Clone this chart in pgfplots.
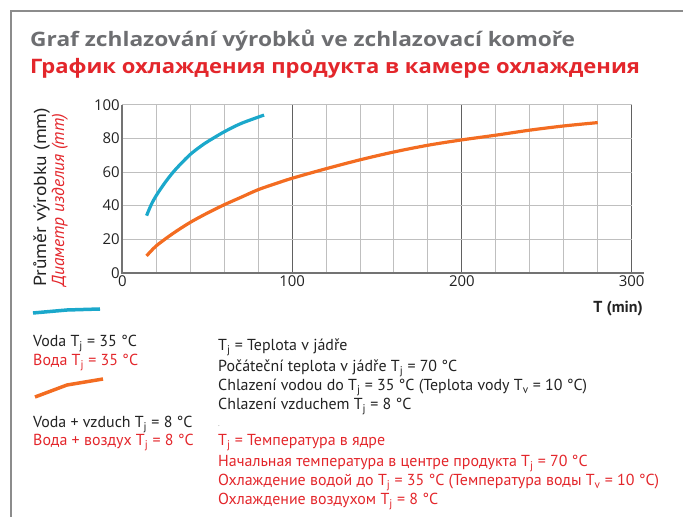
\documentclass[border=0pt]{standalone}
\usepackage{fontspec}
\setmainfont{PT Sans}
\newfontfamily\tickfont{Open Sans}
\newfontfamily\titlefontA[FakeStretch=1.14]{Open Sans}
\newfontfamily\titlefontB[FakeStretch=1.105]{Open Sans}
\newfontfamily\ylabfont[FakeStretch=1.12]{PT Sans}
\usepackage{pgfplots}
\pgfplotsset{compat=1.18}
\definecolor{framegrey}{HTML}{8C8C8C}
\definecolor{titlegrey}{HTML}{6D6E71}
\definecolor{rred}{HTML}{E3262B}
\definecolor{cblue}{HTML}{1BA8CB}
\definecolor{corange}{HTML}{F36C21}
\definecolor{txt}{HTML}{222222}
\begin{document}
\begin{tikzpicture}[x=1bp,y=1bp]
\path[use as bounding box] (0,0) rectangle (683,517);
\draw[framegrey, line width=2.2bp] (11,0) -- (11,506) -- (683,506);
\node[anchor=base west, inner sep=0, font=\titlefontA\fontsize{20}{24}\selectfont\bfseries, text=titlegrey] at (30,470) {Graf zchlazování výrobků ve zchlazovací komoře};
\node[anchor=base west, inner sep=0, font=\titlefontB\fontsize{20}{24}\selectfont\bfseries, text=rred] at (30,443) {График охлаждения продукта в камере охлаждения};
\coordinate (O) at (122.3,244.3);
\begin{axis}[at={(O)}, anchor=south west, scale only axis,
  width=509.4bp, height=167.7bp,
  xmin=0, xmax=300, ymin=0, ymax=100,
  axis line style={draw=none}, tick style={draw=none},
  xtick={0,100,200,300}, minor xtick={20,40,60,80,120,140,160,180,220,240,260,280},
  ytick={0,20,40,60,80,100},
  grid=both,
  major x grid style={draw=black!62, line width=1bp},
  minor x grid style={draw=black!25, line width=1bp},
  major y grid style={draw=black!25, line width=1bp},
  ticklabel style={font=\tickfont\fontsize{15}{18}\selectfont, text=txt},
  /pgf/number format/assume math mode=true,
  xticklabel style={yshift=1bp},
  yticklabel style={xshift=1bp},
  clip=false,
]
\draw[black!55, line width=2bp] (axis cs:0,100) -- (axis cs:0,0) -- (axis cs:307,0);
\addplot[cblue, line width=3.2bp, smooth] coordinates {(14.3,34) (17,40.5) (20,46) (25,53.5) (30,60) (35,65.5) (40,70.5) (45,74.5) (50,78) (60,84) (70,89) (83.5,94)};
\addplot[corange, line width=3.2bp, smooth] coordinates {(14.3,10) (20,16) (30,23.5) (40,30) (50,35.5) (60,40.5) (70,45) (80,49.5) (90,53) (100,56.3) (120,62) (140,67.3) (160,72) (180,76) (200,79.2) (220,82) (240,85) (260,87.5) (280,89.5)};
\end{axis}
\node[rotate=90, anchor=base west, inner sep=0, font=\ylabfont\fontsize{17.5}{20}\selectfont, text=txt] at (46,230) {Průměr výrobku (mm)};
\node[rotate=90, anchor=base west, inner sep=0, font=\fontsize{17.5}{20}\selectfont\itshape, text=rred] at (64,230) {Диаметр изделия (mm)};
\node[anchor=base east, inner sep=0, font=\fontsize{16}{18}\selectfont\bfseries, text=txt] at (643,204) {T (min)};
% legend samples
\draw[cblue, line width=3.5bp] (33,204) -- (67,207) -- (100,208);
\draw[corange, line width=3.5bp] (35,120) -- (67,132) -- (103,138);
\begin{scope}[every node/.style={anchor=base west, inner sep=0, font=\fontsize{16}{19}\selectfont}]
\node[text=txt] at (33,170) {Voda T\textsubscript{j} = 35 °C};
\node[text=rred] at (33,151) {Вода T\textsubscript{j} = 35 °C};
\node[text=txt] at (33,89) {Voda + vzduch T\textsubscript{j} = 8 °C};
\node[text=rred] at (33,71) {Вода + воздух T\textsubscript{j} = 8 °C};
\node[text=txt] at (218,166) {T\textsubscript{j} = Teplota v jádře};
\node[text=txt] at (218,145) {Počáteční teplota v jádře T\textsubscript{j} = 70 °C};
\node[text=txt] at (218,126) {Chlazení vodou do T\textsubscript{j} = 35 °C (Teplota vody T\textsubscript{v} = 10 °C)};
\node[text=txt] at (218,107) {Chlazení vzduchem T\textsubscript{j} = 8 °C};
\node[text=black!40, font=\fontsize{8}{10}\selectfont] at (218,90) {.};
\node[text=rred] at (218,71) {T\textsubscript{j} = Температура в ядре};
\node[text=rred] at (218,50) {Начальная температура в центре продукта T\textsubscript{j} = 70 °C};
\node[text=rred] at (218,31) {Охлаждение водой до T\textsubscript{j} = 35 °C (Температура воды T\textsubscript{v} = 10 °C)};
\node[text=rred] at (218,12) {Охлаждение воздухом T\textsubscript{j} = 8 °C};
\end{scope}
\end{tikzpicture}
\end{document}
